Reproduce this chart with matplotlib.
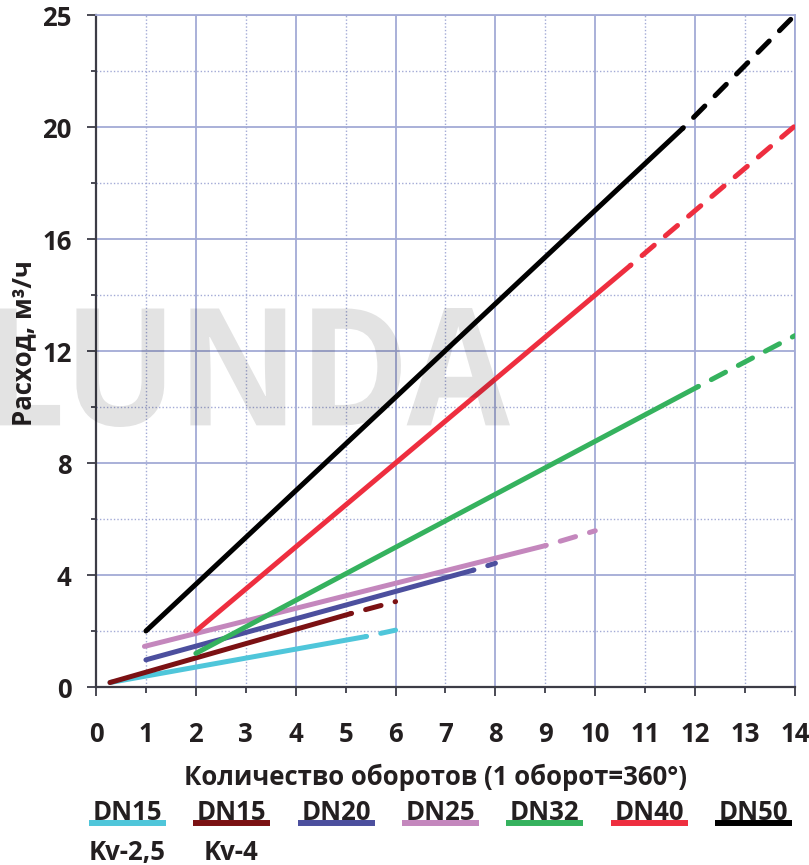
import numpy as np
import matplotlib
matplotlib.use("Agg")
import matplotlib.pyplot as plt
from matplotlib.lines import Line2D
from matplotlib.textpath import TextPath
from matplotlib.patches import PathPatch
from matplotlib.font_manager import FontProperties
from matplotlib.transforms import Affine2D

plt.rcParams['font.family'] = ['Open Sans', 'DejaVu Sans']

# series: DN15 Kv-2,5, DN15 Kv-4, DN20, DN25, DN32, DN40, DN50
labels = ['DN15', 'DN15', 'DN20', 'DN25', 'DN32', 'DN40', 'DN50']
sublabels = ['Kv-2,5', 'Kv-4', '', '', '', '', '']
colors = ['#4fc6da', '#7b1113', '#4c4f9e', '#c487bd', '#35b25e', '#ee2e3f', '#000000']

# solid part (start -> solid end), dashed part (solid end -> end)
x_start = [0.28, 0.28, 1.0, 0.97, 2.0, 2.0, 1.0]
y_start = [0.16, 0.16, 0.97, 1.45, 1.2, 2.0, 2.0]
x_solid = [5.4, 5.1, 7.55, 9.0, 12.05, 10.7, 11.75]
y_solid = [1.8, 2.62, 4.17, 5.05, 10.72, 15.05, 19.95]
x_end = [6.0, 6.0, 8.0, 10.0, 14.0, 14.0, 14.0]
y_end = [2.03, 3.05, 4.42, 5.58, 12.55, 20.05, 25.0]

y_major = [0, 4, 8, 12, 16, 20, 25]
y_minor = [2, 6, 10, 14, 18, 22.5]
x_major = list(range(0, 15, 2))
x_minor = list(range(1, 15, 2))

txt = '#231f20'
grid_c = '#a3aad6'
W = 'bold'
FS = 18.5


# the top band 20..25 is squeezed into 4 units of height
def fwd(y):
    y = np.asarray(y, dtype=float)
    return np.where(y <= 20, y, 20 + (y - 20) * 0.8)


def inv(p):
    p = np.asarray(p, dtype=float)
    return np.where(p <= 20, p, 20 + (p - 20) / 0.8)


fig = plt.figure(figsize=(8.09, 8.65), dpi=100)
ax = fig.add_axes([96 / 809, 1 - 687 / 865, (795 - 96) / 809, (687 - 15) / 865])
ax.set_yscale('function', functions=(fwd, inv))
ax.set_xlim(0, 14)
ax.set_ylim(0, 25)

ax.set_xticks(x_major)
ax.set_xticks(x_minor, minor=True)
ax.set_xticklabels([str(v) for v in x_major])
ax.set_xticklabels([str(v) for v in x_minor], minor=True)
ax.set_yticks(y_major)
ax.set_yticks(y_minor, minor=True)
ax.set_yticklabels([str(v) for v in y_major])
ax.set_yticklabels([], minor=True)

ax.grid(which='major', color=grid_c, lw=1.3, ls='-')
ax.grid(which='minor', color=grid_c, lw=1.0, ls=(0, (1, 1.5)))
ax.set_axisbelow(True)

for side in ['top', 'right']:
    ax.spines[side].set_color(grid_c)
    ax.spines[side].set_linewidth(1.3)
for side in ['left', 'bottom']:
    ax.spines[side].set_color('#3c3c46')
    ax.spines[side].set_linewidth(1.6)

ax.tick_params(axis='both', which='both', direction='out', color='#3c3c46',
               width=1.3, labelcolor=txt, labelsize=FS)
ax.tick_params(axis='x', which='major', length=6.5, pad=17.8)
ax.tick_params(axis='x', which='minor', length=4.3, pad=20.0)
ax.tick_params(axis='y', which='major', length=6.5, pad=11)
ax.tick_params(axis='y', which='minor', length=3.6)
for lab in ax.get_xticklabels(which='both') + ax.get_yticklabels():
    lab.set_fontweight(W)

for i in range(len(labels)):
    ax.plot([x_start[i], x_solid[i]], [y_start[i], y_solid[i]], color=colors[i],
            lw=3.6, solid_capstyle='round', zorder=3)
    ax.plot([x_solid[i], x_end[i]], [y_solid[i], y_end[i]], color=colors[i],
            lw=3.6, ls=(3.0, (3.2, 2.9)), dash_capstyle='round', zorder=3)

ax.set_xlabel('Количество оборотов (1 оборот=360°)', fontsize=FS,
              fontweight=W, color=txt)
ax.xaxis.set_label_coords((435 - 96) / (795 - 96), (687 - 777) / 672)
ax.xaxis.label.set_va('center')
ax.set_ylabel('Расход, м³/ч', fontsize=FS, fontweight=W, color=txt)
ax.yaxis.set_label_coords((24 - 96) / 699, (687 - 343) / 672)
ax.yaxis.label.set_va('center')

# legend below the plot
bar_x = [89, 193, 298, 402, 506, 611, 715]
for i in range(len(labels)):
    x0 = bar_x[i] / 809
    x1 = (bar_x[i] + 77) / 809
    fig.add_artist(Line2D([x0, x1], [1 - 822.5 / 865] * 2, color=colors[i],
                          lw=4.3, solid_capstyle='butt'))
    fig.text((x0 + x1) / 2, 1 - 820 / 865, labels[i], ha='center', va='baseline',
             fontsize=FS, fontweight=W, color=txt)
    if sublabels[i]:
        fig.text((x0 + x1) / 2, 1 - 860 / 865, sublabels[i], ha='center',
                 va='baseline', fontsize=FS, fontweight=W, color=txt)

# watermark, stretched to its box in pixels
tp = TextPath((0, 0), 'LUNDA', size=100,
              prop=FontProperties(family='Open Sans', weight='bold'))
bb = tp.get_extents()
left, right, top, bottom = -6, 510, 308, 427
sx = (right - left) / bb.width
sy = (bottom - top) / bb.height
tr = Affine2D().translate(-bb.x0, -bb.y0).scale(sx, sy).translate(left, 865 - bottom)
wm = PathPatch(tr.transform_path(tp), facecolor='black', edgecolor='none',
               alpha=0.11, transform=None, zorder=10)
fig.add_artist(wm)

fig.savefig('out.png', dpi=100)
